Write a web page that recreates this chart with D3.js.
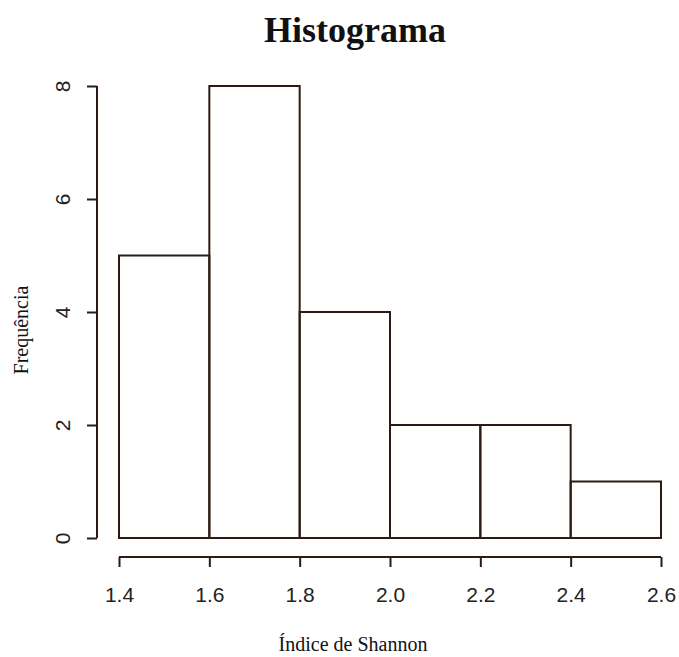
<!DOCTYPE html>
<html>
<head>
<meta charset="utf-8">
<script src="https://cdn.jsdelivr.net/npm/d3@7"></script>
<style>
  body { margin: 0; background: #fff; }
  svg text { fill: #111; }
</style>
</head>
<body>
<svg id="chart" width="679" height="657"></svg>
<script>
// histogram data
var breaks = [1.4, 1.6, 1.8, 2.0, 2.2, 2.4, 2.6];
var counts = [5, 8, 4, 2, 2, 1];
var xTicks = [1.4, 1.6, 1.8, 2.0, 2.2, 2.4, 2.6];
var yTicks = [0, 2, 4, 6, 8];

var ink = '#2e1a12';
var svg = d3.select('#chart');

var x = d3.scaleLinear().domain([1.4, 2.6]).range([119, 661]);
var y = d3.scaleLinear().domain([0, 8]).range([538, 86]);

var bins = counts.map(function(c, i) {
  return { x0: breaks[i], x1: breaks[i + 1], count: c };
});

svg.append('g')
  .selectAll('rect')
  .data(bins)
  .enter()
  .append('rect')
  .attr('x', function(d) { return x(d.x0); })
  .attr('width', function(d) { return x(d.x1) - x(d.x0); })
  .attr('y', function(d) { return y(d.count); })
  .attr('height', function(d) { return y(0) - y(d.count); })
  .attr('fill', 'none')
  .attr('stroke', ink)
  .attr('stroke-width', 2);

// x axis, R style: detached below the plot
var xAxis = svg.append('g')
  .attr('transform', 'translate(0,557)')
  .call(d3.axisBottom(x).tickValues(xTicks).tickFormat(d3.format('.1f')).tickSize(10).tickSizeOuter(0));
xAxis.select('.domain').attr('stroke', ink).attr('stroke-width', 2).attr('d', 'M' + x(1.4) + ',0H' + x(2.6));
xAxis.selectAll('.tick line').attr('stroke', ink).attr('stroke-width', 2);
xAxis.selectAll('.tick text')
  .attr('font-family', 'Liberation Sans, Arial, sans-serif')
  .attr('font-size', 21)
  .attr('dy', null)
  .attr('y', 45)
  .style('fill', '#222');

// y axis, labels rotated like las=0
var yAxis = svg.append('g')
  .attr('transform', 'translate(97,0)')
  .call(d3.axisLeft(y).tickValues(yTicks).tickSize(10).tickSizeOuter(0));
yAxis.select('.domain').attr('stroke', ink).attr('stroke-width', 2).attr('d', 'M0,' + y(0) + 'V' + y(8));
yAxis.selectAll('.tick line').attr('stroke', ink).attr('stroke-width', 2);
yAxis.selectAll('.tick text')
  .attr('font-family', 'Liberation Sans, Arial, sans-serif')
  .attr('font-size', 21)
  .attr('x', null)
  .attr('dy', null)
  .attr('text-anchor', 'middle')
  .attr('transform', 'translate(-35,0) rotate(-90)')
  .attr('y', 8)
  .style('fill', '#222');

svg.append('text')
  .attr('x', 355)
  .attr('y', 42)
  .attr('text-anchor', 'middle')
  .attr('font-family', 'Liberation Serif, Times New Roman, serif')
  .attr('font-weight', 'bold')
  .attr('font-size', 36)
  .text('Histograma');

svg.append('text')
  .attr('x', 353)
  .attr('y', 651)
  .attr('text-anchor', 'middle')
  .attr('font-family', 'Liberation Serif, Times New Roman, serif')
  .attr('font-size', 20)
  .text('Índice de Shannon');

svg.append('text')
  .attr('transform', 'translate(28,330) rotate(-90)')
  .attr('text-anchor', 'middle')
  .attr('font-family', 'Liberation Serif, Times New Roman, serif')
  .attr('font-size', 20)
  .text('Frequência');
</script>
</body>
</html>
